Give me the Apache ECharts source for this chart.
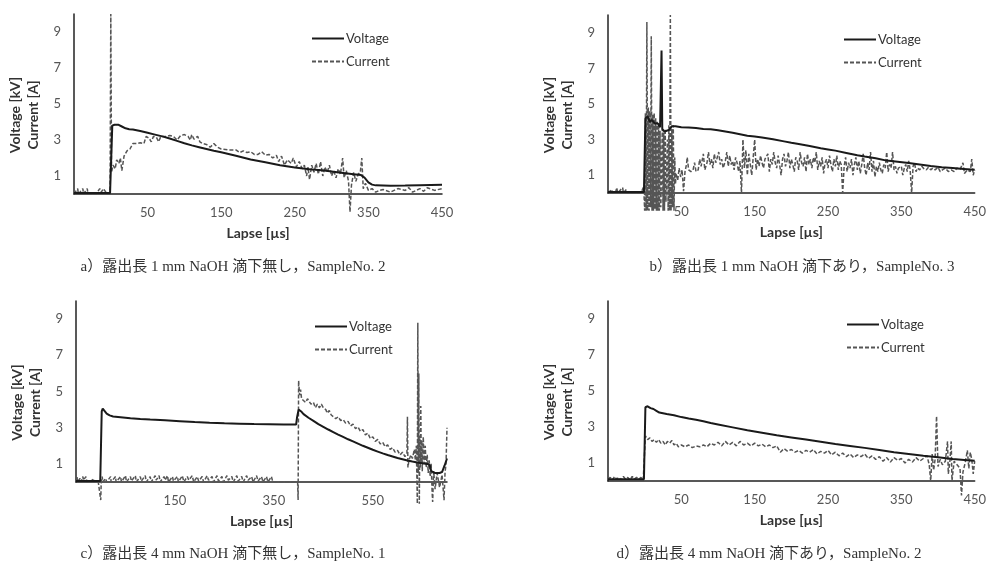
<!DOCTYPE html>
<html>
<head>
<meta charset="utf-8">
<script src="https://cdn.jsdelivr.net/npm/echarts@6/dist/echarts.min.js"></script>
<style>
  html, body { margin: 0; padding: 0; background: #fff; }
  #main { width: 989px; height: 561px; }
</style>
</head>
<body>
<div id="main"></div>
<script>
// tick labels
var yTicks = [1, 3, 5, 7, 9];
var xTicks450 = [50, 150, 250, 350, 450];
var xTicks700 = [150, 350, 550];

var captions = [
    'a）露出長 1 mm NaOH 滴下無し，SampleNo. 2',
    'b）露出長 1 mm NaOH 滴下あり，SampleNo. 3',
    'c）露出長 4 mm NaOH 滴下無し，SampleNo. 1',
    'd）露出長 4 mm NaOH 滴下あり，SampleNo. 2'
];

// a) [time µs, value]
var aVoltage = [[-50,0.05],[-1,0.05],[0,0.1],[2,3.8],[5,3.85],[10,3.85],[15,3.75],[20,3.65],[25,3.6],[30,3.58],[40,3.5],
    [50,3.4],[60,3.3],[70,3.2],[80,3.08],[90,2.95],[100,2.82],[110,2.7],[120,2.6],[130,2.5],[140,2.4],[150,2.32],
    [170,2.12],[190,1.92],[210,1.76],[230,1.6],[250,1.47],[270,1.38],[290,1.3],[310,1.2],[330,1.1],[340,1.05],
    [345,0.9],[350,0.65],[355,0.52],[360,0.48],[380,0.46],[400,0.47],[420,0.49],[450,0.52]];
var aCurrent = [[-50,0],[-45,0.3],[-44,0],[-38,0.3],[-37,0],[-32,0.3],[-31,0],[-20,0],[-15,0.3],[-13,0.1],[-10,0.3],[-5,0],[-1,0],
    [0,10],[1,1.2],[3,1.6],[6,1.4],[8,1.9],[11,1.7],[13,2.0],[15,1.3],[18,2.1],[22,2.4],[26,2.5],[30,2.8],[35,2.8],
    [40,2.85],[45,2.8],[48,3.2],[52,3.1],[55,2.9],[58,3.2],[62,3.15],[65,2.9],[68,3.2],[75,3.2],[80,3.25],[85,3.2],
    [90,3.0],[95,3.25],[100,3.3],[105,3.2],[108,3.0],[110,3.3],[113,3.05],[118,3.2],[121,2.9],[125,2.8],[130,2.75],
    [135,2.6],[140,2.8],[145,2.6],[150,2.5],[160,2.45],[170,2.45],[175,2.3],[180,2.4],[185,2.3],[190,2.35],[195,2.2],
    [200,2.2],[205,2.35],[210,2.15],[215,2.2],[220,2.0],[225,2.15],[228,1.8],[232,2.1],[236,1.6],[240,1.9],[245,1.7],
    [248,2.0],[252,1.5],[256,1.8],[260,1.4],[263,1.6],[266,1.0],[268,1.5],[270,0.8],[273,1.6],[276,1.2],[279,1.7],
    [282,1.1],[285,1.8],[288,1.0],[291,1.5],[294,1.2],[297,1.6],[300,1.0],[303,1.3],[306,0.9],[309,1.4],[312,1.1],
    [315,2.0],[317,0.9],[320,1.3],[323,0.7],[325,-1.0],[327,0.5],[330,1.2],[333,0.7],[336,1.1],[339,1.2],[341,2.0],
    [343,0.3],[346,0.6],[350,0.2],[355,0.3],[360,0.1],[365,0.2],[370,0.25],[380,0.1],[390,0.3],[400,0.2],[405,0.35],
    [410,0.1],[420,0.3],[425,0.15],[430,0.35],[440,0.2],[450,0.3]];

// b)
var bVoltage = [[-50,0.05],[-1,0.05],[0,0.1],[1,4.2],[4,4.3],[7,4.0],[10,4.1],[14,3.9],[18,3.9],[21,3.7],[23,8.0],[24,3.6],
    [27,3.45],[30,3.5],[33,3.55],[37,3.75],[42,3.75],[50,3.7],[60,3.68],[70,3.65],[80,3.6],[90,3.58],[100,3.52],
    [110,3.45],[120,3.38],[130,3.3],[140,3.22],[150,3.18],[160,3.12],[175,3.02],[190,2.9],[200,2.82],[210,2.75],
    [225,2.64],[240,2.52],[250,2.45],[260,2.38],[275,2.25],[290,2.12],[300,2.05],[315,1.95],[330,1.82],[345,1.75],
    [360,1.68],[375,1.6],[390,1.52],[405,1.45],[420,1.4],[435,1.35],[450,1.3]];
var bCurrent = [[-50,0],[-45,0.2],[-44,0],[-40,0],[-38,0.3],[-37,0],[-30,0.3],[-29,0],[-25,0.2],[-24,0],[-5,0],[-2,0.3],[-1,0],
    [0,-1],[1,4.5],[2,-1],[3,9.6],[4,-1],[5,4.8],[6,-1],[7,4.6],[8,-0.8],[9,8.8],[10,-1],[11,4.4],[12,-1],[13,4.5],
    [14,-0.9],[15,4.2],[16,-1],[17,4.0],[18,-1],[19,3.9],[20,-1],[21,3.5],[22,-0.8],[24,3.6],[25,-1],[26,3.4],[27,-1],
    [28,3.6],[29,-0.5],[31,3.0],[32,-1],[33,3.8],[34,-1],[35,10],[36,-1],[37,3.6],[38,-0.8],[39,3.8],[40,-1],[41,2.0],
    [42,0.5],[43,1.1],[45,0.7],[47,1.4],[49,0.9],[51,1.3],[53,0.1],[55,1.2],[57,1.6],[58,2.0],[60,1.3],[63,1.2],
    [66,1.3],[68,1.7],[70,1.2],[73,1.3],[75,1.9],[77,1.5],[80,2.2],[82,1.3],[85,1.7],[87,2.3],[89,1.6],[91,1.9],
    [93,1.4],[95,2.2],[97,1.7],[99,1.8],[101,2.3],[103,1.6],[105,1.9],[107,1.4],[110,1.8],[112,2.3],[114,1.5],
    [116,2.1],[118,1.6],[120,1.8],[122,1.3],[124,2.0],[126,1.7],[128,1.2],[130,1.8],[132,0.0],[134,3.0],[136,1.4],
    [138,2.4],[140,1.0],[142,2.2],[144,1.6],[146,1.0],[148,2.0],[150,3.0],[152,1.3],[154,1.9],[156,1.5],[158,2.1],
    [160,1.7],[162,1.4],[164,1.9],[166,1.8],[168,2.2],[170,1.2],[172,1.9],[174,1.6],[176,2.3],[178,1.7],[180,1.4],
    [182,2.1],[184,1.6],[186,1.0],[188,1.9],[190,2.2],[192,1.5],[194,1.8],[196,2.3],[198,1.4],[200,1.9],[202,1.6],
    [204,1.2],[206,2.0],[208,1.8],[210,1.3],[212,2.3],[214,1.7],[216,1.5],[218,2.0],[220,1.2],[222,2.2],[224,1.6],
    [226,1.9],[228,1.4],[230,2.0],[232,1.7],[234,2.3],[236,1.3],[238,1.8],[240,1.5],[242,2.0],[244,1.1],[246,1.7],
    [248,1.9],[250,1.4],[252,2.1],[254,1.6],[256,1.2],[258,1.9],[260,1.5],[262,2.1],[264,1.3],[266,1.8],[268,1.6],
    [270,0.0],[272,1.5],[274,2.0],[276,1.2],[278,1.7],[280,1.4],[282,1.9],[284,1.0],[286,1.6],[288,2.0],[290,1.3],
    [292,1.8],[294,1.1],[296,1.6],[298,2.2],[300,1.4],[302,1.0],[304,1.7],[306,1.3],[308,2.3],[310,1.2],[312,1.8],
    [314,0.9],[316,1.5],[318,1.2],[320,1.7],[322,1.3],[324,1.1],[326,1.6],[328,1.4],[330,2.3],[332,1.2],[334,1.6],
    [336,1.4],[338,2.3],[340,1.3],[342,1.5],[344,1.1],[346,1.4],[348,1.3],[350,1.5],[352,1.0],[354,1.4],[356,1.6],
    [358,1.2],[360,1.8],[362,1.3],[364,0.0],[366,1.5],[368,1.7],[370,1.2],[372,1.4],[375,1.3],[378,1.5],[381,1.35],
    [384,1.3],[387,1.45],[390,1.3],[393,1.4],[396,1.3],[400,1.45],[403,1.2],[406,1.3],[410,1.4],[414,1.2],[418,1.3],
    [422,1.2],[426,1.4],[430,1.3],[434,1.7],[436,1.1],[440,1.3],[444,1.2],[446,1.9],[448,1.0],[450,1.3]];

// c)
var cVoltage = [[-50,0.05],[-1,0.05],[0,0.1],[2,3.9],[4,4.05],[7,3.95],[12,3.78],[18,3.68],[25,3.62],[40,3.58],[60,3.52],
    [80,3.48],[100,3.45],[130,3.41],[160,3.36],[190,3.31],[220,3.27],[250,3.24],[280,3.22],[310,3.2],[340,3.19],
    [370,3.18],[395,3.17],[397,3.6],[400,4.0],[403,4.05],[406,3.88],[410,3.75],[420,3.55],[430,3.38],[440,3.2],
    [450,3.05],[460,2.9],[470,2.76],[480,2.62],[490,2.49],[500,2.36],[510,2.24],[520,2.12],[530,2.0],[540,1.89],
    [550,1.78],[560,1.68],[570,1.58],[580,1.49],[590,1.41],[600,1.33],[610,1.26],[620,1.19],[630,1.13],[640,1.08],
    [650,1.04],[660,1.0],[665,0.95],[668,0.6],[675,0.5],[685,0.5],[690,0.55],[695,0.9],[700,1.3]];
var cCurrent = [[-50,0],[-48,0.3],[-47,0],[-42,0.2],[-41,0],[-36,0.3],[-35,0.1],[-30,0.3],[-28,0],[-20,0],[-15,0.2],[-14,0],
    [-5,0],[-1,0],[0,-1],[1,0],[3,0.3],[4,0],[10,0.2],[12,0],[20,0.3],[21,0],[30,0.3],[31,0],[40,0.3],[42,0],[50,0.35],
    [52,0],[60,0.3],[62,0.05],[70,0.35],[72,0],[80,0.3],[82,0.05],[90,0.35],[92,0],[100,0.3],[102,0],[110,0.35],
    [112,0.1],[118,0.35],[120,0],[128,0.3],[130,0.1],[135,0.35],[137,0],[145,0.3],[147,0.05],[155,0.3],[157,0],
    [165,0.35],[168,0],[175,0.3],[178,0.1],[185,0.35],[188,0],[195,0.3],[198,0.05],[205,0.3],[208,0],[215,0.35],
    [218,0.1],[225,0.3],[228,0],[235,0.35],[238,0.05],[245,0.3],[248,0],[255,0.35],[258,0.1],[265,0.3],[268,0],
    [275,0.35],[278,0.05],[285,0.3],[288,0],[295,0.35],[298,0.1],[305,0.3],[308,0],[315,0.35],[318,0.05],[325,0.3],
    [328,0],[335,0.3],[338,0],[345,0.3],[348,0],[360,0],[398,0],[399,-1],[400,5.6],[402,4.8],[404,5.1],[406,4.6],
    [410,4.7],[414,4.4],[418,4.6],[425,4.3],[430,4.4],[434,4.1],[438,4.3],[442,4.1],[446,4.3],[450,4.1],[455,4.0],
    [458,3.8],[462,3.95],[466,3.7],[470,3.8],[475,3.5],[480,3.6],[485,3.4],[490,3.45],[495,3.25],[500,3.35],
    [505,3.1],[510,3.2],[515,2.95],[520,3.05],[525,2.8],[530,2.9],[535,2.6],[540,2.7],[545,2.4],[550,2.5],[555,2.25],
    [560,2.35],[565,2.1],[570,2.2],[575,1.95],[580,2.05],[585,1.8],[590,1.9],[595,1.65],[600,1.75],[605,1.5],
    [610,1.65],[615,1.4],[619,1.6],[620,3.6],[621,0.8],[623,1.2],[627,1.5],[630,1.3],[634,1.8],[636,1.2],[638,2.0],
    [640,-1.2],[641,8.8],[642,0.5],[643,6.0],[644,-1.2],[645,2.4],[646,0.8],[647,4.2],[648,1.0],[649,2.3],[650,0.6],
    [652,2.5],[654,1.0],[656,2.0],[658,0.8],[660,1.5],[662,0.5],[664,1.2],[666,0.3],[668,1.0],[670,-0.6],[671,-1.1],
    [673,0.6],[676,-0.4],[680,0.5],[685,-0.3],[690,0.4],[694,-1.0],[696,0.5],[698,1.0],[700,3.0]];

// d)
var dVoltage = [[-50,0.1],[-1,0.1],[0,0.15],[1,4.1],[4,4.15],[8,4.05],[12,4.0],[16,3.9],[20,3.8],[30,3.72],[40,3.65],
    [50,3.55],[60,3.47],[70,3.4],[80,3.32],[90,3.22],[100,3.14],[120,2.98],[140,2.82],[160,2.68],[180,2.54],
    [200,2.42],[220,2.3],[240,2.18],[260,2.06],[280,1.95],[300,1.84],[320,1.72],[340,1.6],[360,1.5],[380,1.4],
    [400,1.32],[420,1.22],[440,1.15],[450,1.12]];
var dCurrent = [[-50,0.1],[-47,0.2],[-44,0.05],[-41,0.25],[-38,0.1],[-35,0.2],[-32,0.05],[-29,0.25],[-26,0.1],[-23,0.2],
    [-20,0.05],[-17,0.25],[-14,0.1],[-11,0.2],[-8,0.1],[-5,0.2],[-2,0.05],[0,0.1],[1,2.5],[4,2.3],[7,2.4],[10,2.2],
    [13,2.3],[16,2.15],[19,2.3],[22,2.1],[25,2.2],[28,2.0],[31,2.2],[34,2.1],[37,2.25],[40,2.0],[43,2.1],[46,1.9],
    [50,2.0],[55,1.9],[60,2.0],[65,1.85],[70,1.95],[75,1.9],[80,2.0],[85,1.9],[90,2.1],[95,2.0],[100,2.15],[105,1.95],
    [110,2.2],[115,2.0],[120,2.15],[125,1.95],[130,2.2],[135,2.0],[140,2.1],[145,1.95],[150,2.1],[155,1.95],[160,2.05],
    [165,1.9],[170,2.0],[175,1.85],[180,1.95],[185,1.6],[190,1.8],[195,1.65],[200,1.75],[205,1.6],[210,1.7],[215,1.55],
    [220,1.7],[225,1.6],[230,1.75],[235,1.5],[240,1.65],[245,1.55],[250,1.7],[255,1.45],[260,1.6],[265,1.4],[270,1.55],
    [275,1.35],[280,1.5],[285,1.3],[290,1.45],[295,1.35],[300,1.5],[305,1.25],[310,1.4],[315,1.2],[320,1.35],[325,1.1],
    [330,1.3],[335,1.05],[340,1.3],[345,1.15],[350,1.25],[355,1.0],[360,1.2],[365,1.05],[370,1.3],[375,1.1],[380,1.25],
    [385,1.4],[388,0.9],[390,0.0],[392,1.5],[394,0.6],[396,1.2],[398,3.6],[400,0.8],[403,1.2],[406,0.9],[410,1.1],
    [413,2.2],[414,0.4],[416,1.0],[418,2.2],[419,0.0],[422,1.1],[426,0.9],[430,0.7],[432,-0.8],[434,0.5],[437,1.0],
    [440,1.7],[442,0.7],[444,1.6],[446,1.2],[448,0.4],[450,1.1]];

var panels = [
    { grid: { left: 74, top: 14, width: 368, height: 180 }, xMin: -50, xMax: 450, xTicks: xTicks450, volt: aVoltage, cur: aCurrent, legend: [306, 27], cap: [228, 255] },
    { grid: { left: 608, top: 15, width: 367, height: 178 }, xMin: -50, xMax: 450, xTicks: xTicks450, volt: bVoltage, cur: bCurrent, legend: [838, 28], cap: [797, 255] },
    { grid: { left: 76, top: 301, width: 371, height: 181 }, xMin: -50, xMax: 700, xTicks: xTicks700, volt: cVoltage, cur: cCurrent, legend: [309, 315], cap: [228, 542] },
    { grid: { left: 608, top: 301, width: 372, height: 180 }, xMin: -50, xMax: 450, xTicks: xTicks450, volt: dVoltage, cur: dCurrent, legend: [841, 313], cap: [764, 542] }
];

var font = 'Lato, "Open Sans", sans-serif';
var grids = [], xAxes = [], yAxes = [], series = [], legends = [], titles = [];

panels.forEach(function (p, i) {
    grids.push(p.grid);
    xAxes.push({
        type: 'value', gridIndex: i, min: p.xMin, max: p.xMax,
        name: 'Lapse [µs]', nameLocation: 'middle', nameGap: 32,
        nameTextStyle: { fontFamily: font, fontWeight: 'bold', fontSize: 14, color: '#333' },
        axisLine: { lineStyle: { color: '#222', width: 1.5 } },
        axisTick: { show: false },
        splitLine: { show: false },
        axisLabel: { customValues: p.xTicks, fontFamily: font, fontSize: 13, color: '#555', margin: 12 }
    });
    yAxes.push({
        type: 'value', gridIndex: i, min: 0, max: 10,
        name: 'Voltage [kV]\nCurrent [A]', nameLocation: 'middle', nameGap: 32, nameRotate: 90,
        nameTextStyle: { fontFamily: font, fontWeight: 'bold', fontSize: 14, color: '#333', lineHeight: 18, padding: [0, 22, 0, 0] },
        axisLine: { show: true, onZero: false, lineStyle: { color: '#222', width: 1.5 } },
        axisTick: { show: false },
        splitLine: { show: false },
        axisLabel: { customValues: yTicks, fontFamily: font, fontSize: 13, color: '#555', margin: 13 }
    });
    series.push({
        name: 'Voltage', type: 'line', xAxisIndex: i, yAxisIndex: i, data: p.volt,
        symbol: 'none', clip: false, z: 3, color: '#1a1a1a',
        lineStyle: { color: '#1a1a1a', width: 2 }
    });
    series.push({
        name: 'Current', type: 'line', xAxisIndex: i, yAxisIndex: i, data: p.cur,
        symbol: 'none', clip: false, z: 2, color: '#555',
        lineStyle: { color: '#555', width: 1.5, type: [4, 2] }
    });
    legends.push({
        data: ['Voltage', 'Current'], orient: 'vertical', left: p.legend[0], top: p.legend[1],
        itemWidth: 32, itemHeight: 14, itemGap: 10,
        itemStyle: { opacity: 0 },
        textStyle: { fontFamily: font, fontSize: 13, color: '#333', padding: [0, 0, 0, -3] },
        selectedMode: false
    });
    titles.push({
        text: captions[i], left: p.cap[0], top: p.cap[1], textAlign: 'center',
        textStyle: { fontFamily: '"Liberation Serif", "Noto Sans CJK JP", serif', fontSize: 15, fontWeight: 'normal', color: '#333' }
    });
});

var myChart = echarts.init(document.getElementById('main'));
myChart.setOption({
    animation: false,
    backgroundColor: '#fff',
    title: titles,
    legend: legends,
    grid: grids,
    xAxis: xAxes,
    yAxis: yAxes,
    series: series
});
</script>
</body>
</html>
